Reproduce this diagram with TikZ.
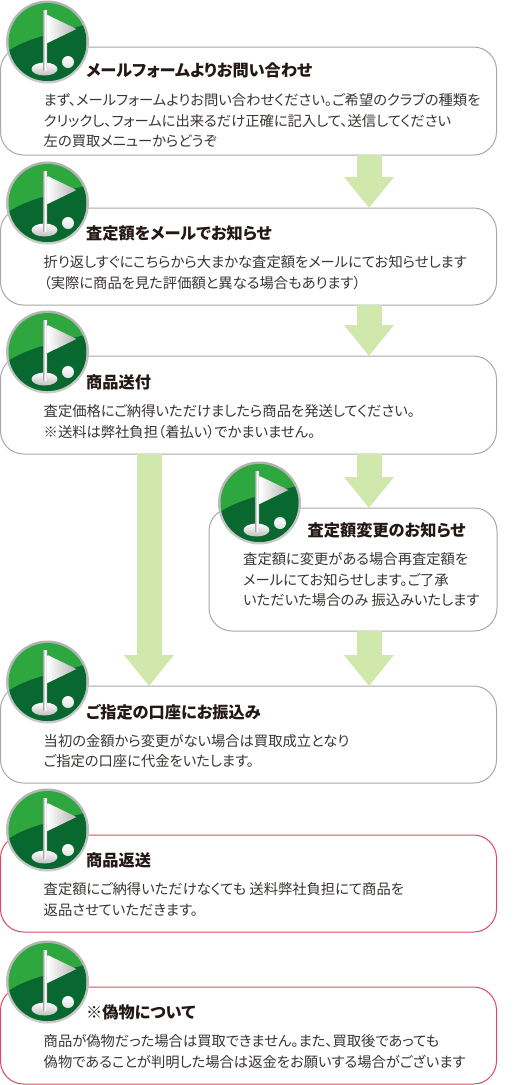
\documentclass[tikz,border=0pt]{standalone}
\usepackage{fontspec}
\setmainfont[RawFeature=+palt]{Noto Sans CJK JP}
\usetikzlibrary{arrows.meta}
\definecolor{ink}{HTML}{3A3533}
\definecolor{titleink}{HTML}{231815}
\definecolor{graybd}{HTML}{A8A8A8}
\definecolor{redbd}{HTML}{DC4A62}
\definecolor{arrowgreen}{HTML}{D1E8AC}
\definecolor{lightgrass}{HTML}{2EA83E}
\definecolor{darkgrass}{HTML}{086830}
\definecolor{brightgrass}{HTML}{6EB92D}
\pgfdeclareradialshading{grassglow}{\pgfpoint{-10bp}{8bp}}{color(0bp)=(darkgrass); color(30bp)=(darkgrass); color(47bp)=(brightgrass); color(100bp)=(brightgrass)}
\tikzset{
  x=1pt,y=-1pt,
  flowbox/.style={draw=graybd,line width=1pt,fill=white,rounded corners=23pt,inner sep=0pt,outer sep=0pt,anchor=north west},
  redbox/.style={flowbox,draw=redbd},
  titletext/.style={anchor=west,inner sep=0pt,font=\fontsize{16.2}{18}\selectfont\bfseries,text=titleink},
  bodytext/.style={anchor=west,inner sep=0pt,align=left,text=ink,font=\fontsize{14.3}{20.5}\selectfont},
  flowarrow/.style={draw=arrowgreen,line width=25pt,-{Triangle[width=48pt,length=31pt]}},
  pics/flagicon/.style={code={
    \shade[top color=graybd!90,bottom color=graybd!60] (0,0) circle[radius=41.5];
    \begin{scope}
      \clip (0,0) circle[radius=39];
      \fill[lightgrass] (-40,-40) rectangle (40,40);
      \clip (-42,11) .. controls (-25,-2) and (0,-8) .. (42,-18) -- (42,42) -- (-42,42) -- cycle;
      \shade[shading=grassglow] (-50,-50) rectangle (50,50);
    \end{scope}
    \shade[top color=white,bottom color=white!75!black] (-3,27) ellipse[x radius=13,y radius=6.5];
    \shade[top color=white,bottom color=white!88!black] (20.5,20) circle[radius=6];
    \shade[left color=white!65!black,right color=white!80!black,middle color=white] (-4.5,-32) rectangle (-0.5,28);
    \shade[left color=white,right color=white!70!black] (0,-27) -- (29,-13) -- (0,1) -- cycle;
  }}
}
\begin{document}
\begin{tikzpicture}
\useasboundingbox (0,0) rectangle (530,1085);
\coordinate (ax) at (369,0);
\coordinate (lx) at (149,0);
% boxes
\node[flowbox,minimum width=496pt,minimum height=108pt] (b1) at (0.5,47) {};
\node[flowbox,minimum width=496pt,minimum height=97pt] (b2) at (0.5,208) {};
\node[flowbox,minimum width=496pt,minimum height=98pt] (b3) at (0.5,356) {};
\node[flowbox,minimum width=288pt,minimum height=123pt] (b4) at (209,508) {};
\node[flowbox,minimum width=496pt,minimum height=97pt] (b5) at (0.5,686) {};
\node[redbox,minimum width=496pt,minimum height=97pt] (b6) at (0.5,835) {};
\node[redbox,minimum width=496pt,minimum height=97pt] (b7) at (0.5,987) {};
% arrows
\draw[flowarrow] (b1.south -| ax) -- (b2.north -| ax);
\draw[flowarrow] (b2.south -| ax) -- (b3.north -| ax);
\draw[flowarrow] (b3.south -| ax) -- (b4.north -| ax);
\draw[flowarrow] (b4.south -| ax) -- (b5.north -| ax);
\draw[flowarrow] (b3.south -| lx) -- (b5.north -| lx);
% icons
\pic at (47.5,42) {flagicon};
\pic at (47.5,203) {flagicon};
\pic at (47.5,352) {flagicon};
\pic at (259.5,503) {flagicon};
\pic at (47.5,682) {flagicon};
\pic at (47.5,830) {flagicon};
\pic at (47.5,982) {flagicon};
% titles
\node[titletext] (t1) at (86,70) {メールフォームよりお問い合わせ};
\node[titletext] (t2) at (86,233) {査定額をメールでお知らせ};
\node[titletext] (t3) at (86,382) {商品送付};
\node[titletext] (t4) at (307.5,530) {査定額変更のお知らせ};
\node[titletext] (t5) at (86,712) {ご指定の口座にお振込み};
\node[titletext] (t6) at (86,860) {商品返送};
\node[titletext] (t7) at (86,1012) {※偽物について};
% bodies
\node[bodytext] (d1) at (43.5,120.5) {まず、メールフォームよりお問い合わせください。ご希望のクラブの種類を\\クリックし、フォームに出来るだけ正確に記入して、送信してください\\左の買取メニューからどうぞ};
\node[bodytext] (d2) at (43.5,272.5) {折り返しすぐにこちらから大まかな査定額をメールにてお知らせします\\（実際に商品を見た評価額と異なる場合もあります）};
\node[bodytext] (d3) at (43.5,421.5) {査定価格にご納得いただけましたら商品を発送してください。\\※送料は弊社負担（着払い）でかまいません。};
\node[bodytext] (d4) at (243,580) {査定額に変更がある場合再査定額を\\メールにてお知らせします。ご了承\\いただいた場合のみ 振込みいたします};
\node[bodytext] (d5) at (43.5,751) {当初の金額から変更がない場合は買取成立となり\\ご指定の口座に代金をいたします。};
\node[bodytext] (d6) at (43.5,899.5) {査定額にご納得いただけなくても 送料弊社負担にて商品を\\返品させていただきます。};
\node[bodytext] (d7) at (43.5,1051.5) {商品が偽物だった場合は買取できません。また、買取後であっても\\偽物であることが判明した場合は返金をお願いする場合がございます};
\end{tikzpicture}
\end{document}
